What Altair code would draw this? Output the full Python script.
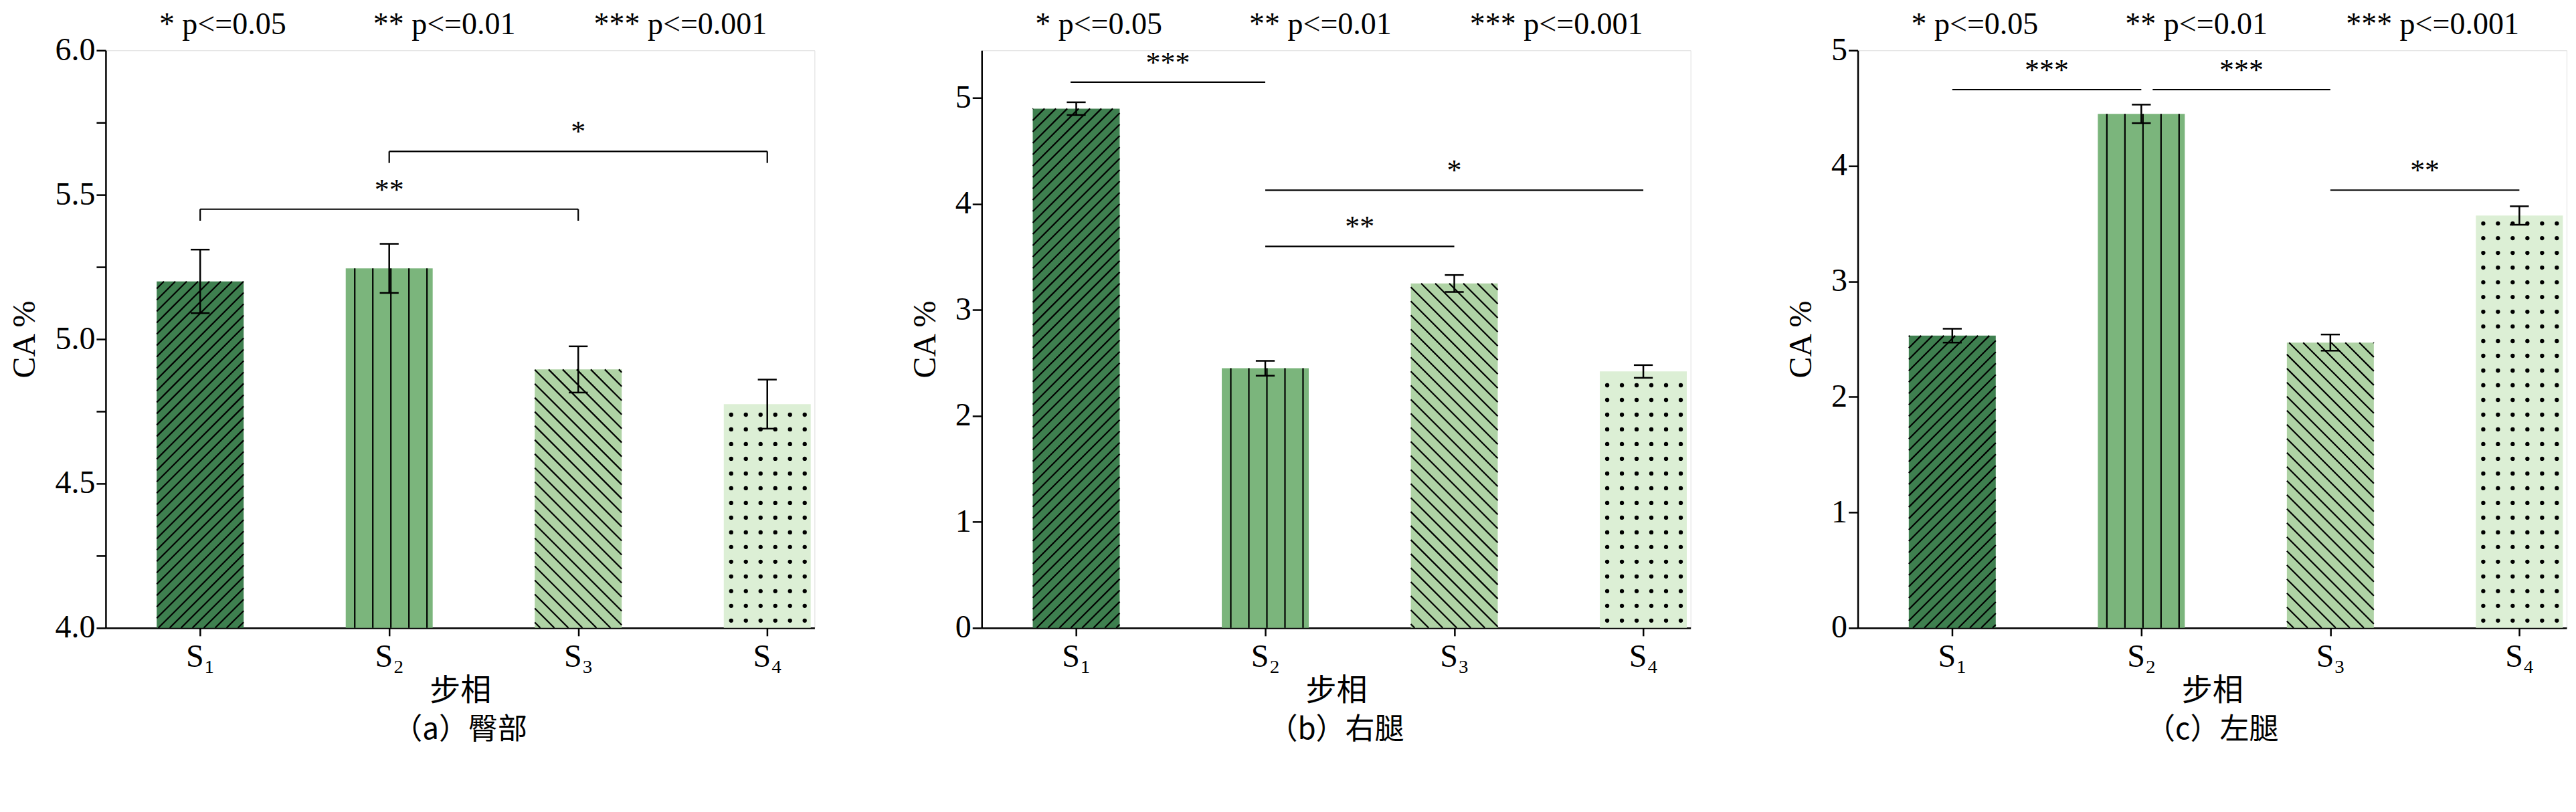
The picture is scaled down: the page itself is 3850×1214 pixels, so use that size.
import altair as alt
import numpy as np
import pandas as pd

stages = [1, 2, 3, 4]
stage_labels = ["S₁", "S₂", "S₃", "S₄"]
colors = ["#3e7f4f", "#7bb57c", "#afd3a5", "#dcefd5"]

captions = ["（a）臀部", "（b）右腿", "（c）左腿"]
means = [[5.20, 5.245, 4.895, 4.775],
         [4.90, 2.45, 3.25, 2.42],
         [2.53, 4.45, 2.47, 3.57]]
errs = [[0.11, 0.085, 0.08, 0.085],
        [0.06, 0.07, 0.08, 0.06],
        [0.06, 0.08, 0.07, 0.08]]
ydomains = [[4.0, 6.0], [0, 5.45], [0, 5]]
ymajor = [[4.0, 4.5, 5.0, 5.5, 6.0], [0, 1, 2, 3, 4, 5], [0, 1, 2, 3, 4, 5]]
yminor = [[4.25, 4.75, 5.25, 5.75], [0.5, 1.5, 2.5, 3.5, 4.5], [0.5, 1.5, 2.5, 3.5, 4.5]]
# brackets: x start, x end, y level, label
brackets = [
    [(1, 3, 5.45, "**"), (2, 4, 5.65, "*")],
    [(0.97, 2.0, 5.15, "***"), (2.0, 4.0, 4.13, "*"), (2.0, 3.0, 3.6, "**")],
    [(1.0, 2.0, 4.66, "***"), (2.06, 3.0, 4.66, "***"), (3.0, 4.0, 3.79, "**")],
]
bracket_tick = [True, False, False]
legend_parts = ["* p<=0.05", "** p<=0.01", "*** p<=0.001"]
legend_x = [80, 400, 730]

W, H = 1060, 864
XDOM = [0.5, 4.25]
HALF = 0.23
FONT = "Liberation Serif"
CJK = "Noto Sans CJK SC"


def hatch_lines(x0, x1, y0, y1, ydom, kind, spacing):
    # hatch segments inside a bar, built in pixel space, returned in data units
    px = W / (XDOM[1] - XDOM[0])
    py = H / (ydom[1] - ydom[0])
    X1 = (x1 - x0) * px
    Y1 = (y1 - y0) * py
    segs = []
    if kind == "v":
        for u in np.arange(spacing / 2, X1, spacing):
            segs.append((u, 0.0, u, Y1))
    else:
        s = 1 if kind == "/" else -1
        for c in np.arange(-X1 - Y1, X1 + Y1, spacing):
            pts = []
            for X in (0.0, X1):
                Y = s * X + c
                if 0 <= Y <= Y1:
                    pts.append((X, Y))
            for Y in (0.0, Y1):
                X = (Y - c) * s
                if 0 <= X <= X1:
                    pts.append((X, Y))
            pts = sorted(set(pts))
            if len(pts) >= 2:
                segs.append((pts[0][0], pts[0][1], pts[-1][0], pts[-1][1]))
    return [dict(x=x0 + a / px, y=y0 + b / py, x2=x0 + c / px, y2=y0 + d / py)
            for a, b, c, d in segs]


def dots(x0, x1, y0, y1, ydom, spacing):
    px = W / (XDOM[1] - XDOM[0])
    py = H / (ydom[1] - ydom[0])
    out = []
    for u in np.arange(spacing / 2, (x1 - x0) * px, spacing):
        for v in np.arange(spacing / 2, (y1 - y0) * py, spacing):
            out.append(dict(x=x0 + u / px, y=y0 + v / py))
    return out


def panel(i):
    ydom = ydomains[i]
    df = pd.DataFrame({"x": stages, "m": means[i], "e": errs[i], "c": colors,
                       "x0": [s - HALF for s in stages], "x1": [s + HALF for s in stages]})
    df["lo"] = df.m - df.e
    df["hi"] = df.m + df.e
    df["base"] = ydom[0]
    df["c0"] = df.x - 0.05
    df["c1"] = df.x + 0.05

    xs = alt.Scale(domain=XDOM, nice=False, zero=False)
    ys = alt.Scale(domain=ydom, nice=False, zero=False)
    xax = alt.Axis(values=stages, labelExpr="['','S₁','S₂','S₃','S₄'][datum.value]",
                   title="步相", titleFont=CJK, titleFontSize=46, titleFontWeight="normal",
                   labelFont=FONT, labelFontSize=48, grid=False, tickSize=12,
                   domainColor="black", tickColor="black", labelColor="black",
                   titleColor="black", domainWidth=2.5, tickWidth=2.5, labelPadding=8)
    yvals = sorted(ymajor[i] + yminor[i])
    fmt = ".1f" if i == 0 else "d"
    yax = alt.Axis(values=yvals, format=fmt, grid=False, tickSize=14,
                   labelExpr="indexof(%s, datum.value) >= 0 ? datum.label : ''" % str(ymajor[i]),
                   title="CA %", titleFont=FONT, titleFontSize=48, titleFontWeight="normal",
                   labelFont=FONT, labelFontSize=48, domainColor="black", tickColor="black",
                   labelColor="black", titleColor="black", domainWidth=2.5, tickWidth=2.5,
                   titlePadding=20)

    bars = alt.Chart(df).mark_rect().encode(
        x=alt.X("x0:Q", scale=xs, axis=xax), x2="x1",
        y=alt.Y("base:Q", scale=ys, axis=yax), y2="m",
        color=alt.Color("c:N", scale=None))

    hrows, drows = [], []
    kinds = ["/", "v", "\\", None]
    spacing = [17, 27, 21, 22]
    for k in range(4):
        if kinds[k]:
            hrows += hatch_lines(df.x0[k], df.x1[k], ydom[0], means[i][k], ydom, kinds[k], spacing[k])
        else:
            drows += dots(df.x0[k], df.x1[k], ydom[0], means[i][k], ydom, spacing[k])
    hatch = alt.Chart(pd.DataFrame(hrows)).mark_rule(color="black", strokeWidth=2.2).encode(
        x=alt.X("x:Q", scale=xs), x2="x2", y=alt.Y("y:Q", scale=ys), y2="y2")
    dot = alt.Chart(pd.DataFrame(drows)).mark_circle(color="black", size=40, opacity=1).encode(
        x=alt.X("x:Q", scale=xs), y=alt.Y("y:Q", scale=ys))

    ev = alt.Chart(df).mark_rule(color="black", strokeWidth=2.5).encode(
        x=alt.X("x:Q", scale=xs), y=alt.Y("lo:Q", scale=ys), y2="hi")
    cap_hi = alt.Chart(df).mark_rule(color="black", strokeWidth=2.5).encode(
        x=alt.X("c0:Q", scale=xs), x2="c1", y=alt.Y("hi:Q", scale=ys))
    cap_lo = alt.Chart(df).mark_rule(color="black", strokeWidth=2.5).encode(
        x=alt.X("c0:Q", scale=xs), x2="c1", y=alt.Y("lo:Q", scale=ys))

    bdf = pd.DataFrame(brackets[i], columns=["a", "b", "y", "t"])
    bdf["mid"] = (bdf.a + bdf.b) / 2
    bdf["yl"] = bdf.y - 0.02 * (ydom[1] - ydom[0])
    bline = alt.Chart(bdf).mark_rule(color="black", strokeWidth=2.2).encode(
        x=alt.X("a:Q", scale=xs), x2="b", y=alt.Y("y:Q", scale=ys))
    btxt = alt.Chart(bdf).mark_text(font=FONT, fontSize=44, dy=-6, baseline="bottom",
                                    color="black").encode(
        x=alt.X("mid:Q", scale=xs), y=alt.Y("y:Q", scale=ys), text="t:N")
    layers = [bars, hatch, dot, ev, cap_hi, cap_lo, bline, btxt]
    if bracket_tick[i]:
        for col in ["a", "b"]:
            layers.append(alt.Chart(bdf).mark_rule(color="black", strokeWidth=2.2).encode(
                x=alt.X(f"{col}:Q", scale=xs), y=alt.Y("y:Q", scale=ys), y2="yl"))

    for t, lx in zip(legend_parts, legend_x):
        layers.append(alt.Chart(df.head(1)).mark_text(
            font=FONT, fontSize=46, align="left", baseline="middle", color="black", text=t
        ).encode(x=alt.value(lx), y=alt.value(-38)))

    return alt.layer(*layers).properties(
        width=W, height=H,
        title=alt.TitleParams(captions[i], orient="bottom", font=CJK, fontSize=44,
                              fontWeight="normal", color="black", offset=14))


chart = alt.hconcat(*[panel(i) for i in range(3)], spacing=140).configure_view(
    stroke=None).configure(background="white")
chart.save("out.html", embed_options={"renderer": "svg", "actions": False})
